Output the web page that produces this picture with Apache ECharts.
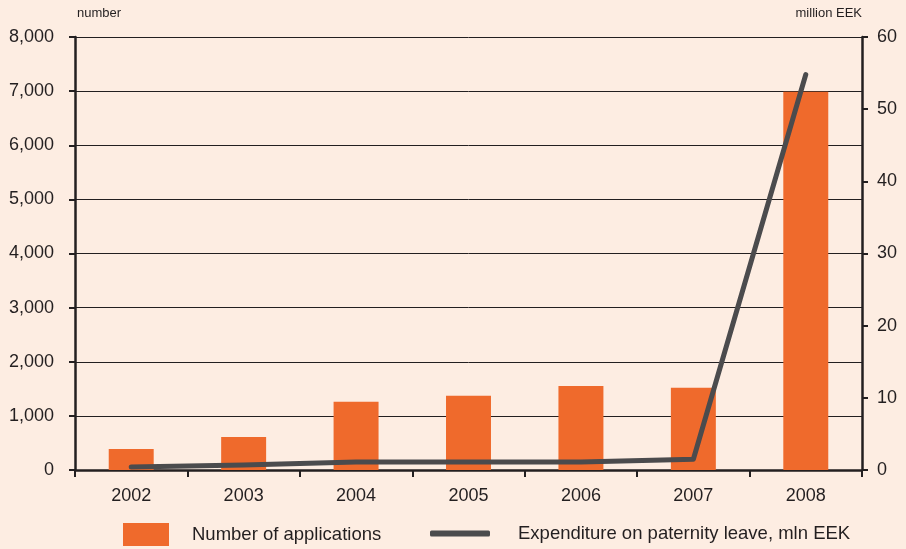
<!DOCTYPE html>
<html><head><meta charset="utf-8">
<script src="https://cdn.jsdelivr.net/npm/echarts@6/dist/echarts.min.js"></script>
<style>html,body{margin:0;padding:0;background:#fdede2;}#c{width:906px;height:549px;}</style>
</head><body><div id="c"></div>
<script>
const years = ['2002','2003','2004','2005','2006','2007','2008'];
const applications = [390, 610, 1260, 1370, 1550, 1520, 6990];
const expenditure = [0.4, 0.7, 1.1, 1.1, 1.1, 1.5, 54.8];
const leftTicks = [0, 8000, 1000];
const rightTicks = [0, 60, 10];
const barName = 'Number of applications';
const lineName = 'Expenditure on paternity leave, mln EEK';

const txt = '#231f20';
const font = 'Liberation Sans, Arial, sans-serif';
const chart = echarts.init(document.getElementById('c'));
chart.setOption({
  backgroundColor: '#fdede2',
  animation: false,
  textStyle: {fontFamily: font, color: txt},
  grid: {left: 75, right: 44, top: 37, bottom: 79},
  legend: [
    {data: [{name: barName, icon: 'rect'}], left: 123, top: 523, padding: 0, itemWidth: 46, itemHeight: 23, itemGap: 10,
     textStyle: {fontSize: 18.5, color: txt, fontFamily: font, padding: [0,0,0,18]}},
    {data: [{name: lineName, icon: 'roundRect'}], left: 430, top: 524, padding: 0, itemWidth: 60, itemHeight: 6,
     textStyle: {fontSize: 18.5, color: txt, fontFamily: font, padding: [0,0,0,23]}}
  ],
  xAxis: {
    type: 'category', data: years,
    axisLine: {lineStyle: {color: '#231f20', width: 2.5}},
    axisTick: {show: true, length: 7, lineStyle: {color: '#231f20', width: 2}},
    axisLabel: {fontSize: 18, color: txt, margin: 17, fontFamily: font}
  },
  yAxis: [
    {type: 'value', min: leftTicks[0], max: leftTicks[1], interval: leftTicks[2],
     name: 'number', nameLocation: 'end', nameGap: 17,
     nameTextStyle: {fontSize: 13, color: txt, align: 'left', fontFamily: font, padding: [0,0,0,2]},
     axisLine: {show: true, lineStyle: {color: '#231f20', width: 2.5}},
     axisTick: {show: true, length: 6, lineStyle: {color: '#231f20', width: 2}},
     axisLabel: {fontSize: 18, color: txt, margin: 21, fontFamily: font,
       formatter: v => v.toLocaleString('en-US')},
     splitLine: {show: true, lineStyle: {color: '#231f20', width: 1}}
    },
    {type: 'value', min: rightTicks[0], max: rightTicks[1], interval: rightTicks[2], position: 'right',
     name: 'million EEK', nameLocation: 'end', nameGap: 17,
     nameTextStyle: {fontSize: 13, color: txt, align: 'right', fontFamily: font},
     axisLine: {show: true, lineStyle: {color: '#231f20', width: 2.5}},
     axisTick: {show: true, length: 6, lineStyle: {color: '#231f20', width: 2}},
     axisLabel: {fontSize: 18, color: txt, margin: 15, fontFamily: font},
     splitLine: {show: false}
    }
  ],
  series: [
    {name: barName, type: 'bar', data: applications, yAxisIndex: 0, barWidth: '40%',
     itemStyle: {color: '#ef6a2c'}},
    {name: lineName, type: 'line', data: expenditure, yAxisIndex: 1, symbol: 'none',
     lineStyle: {color: '#4b4b4d', width: 5, cap: 'round', join: 'round'},
     itemStyle: {color: '#4b4b4d'}}
  ]
});
</script></body></html>
